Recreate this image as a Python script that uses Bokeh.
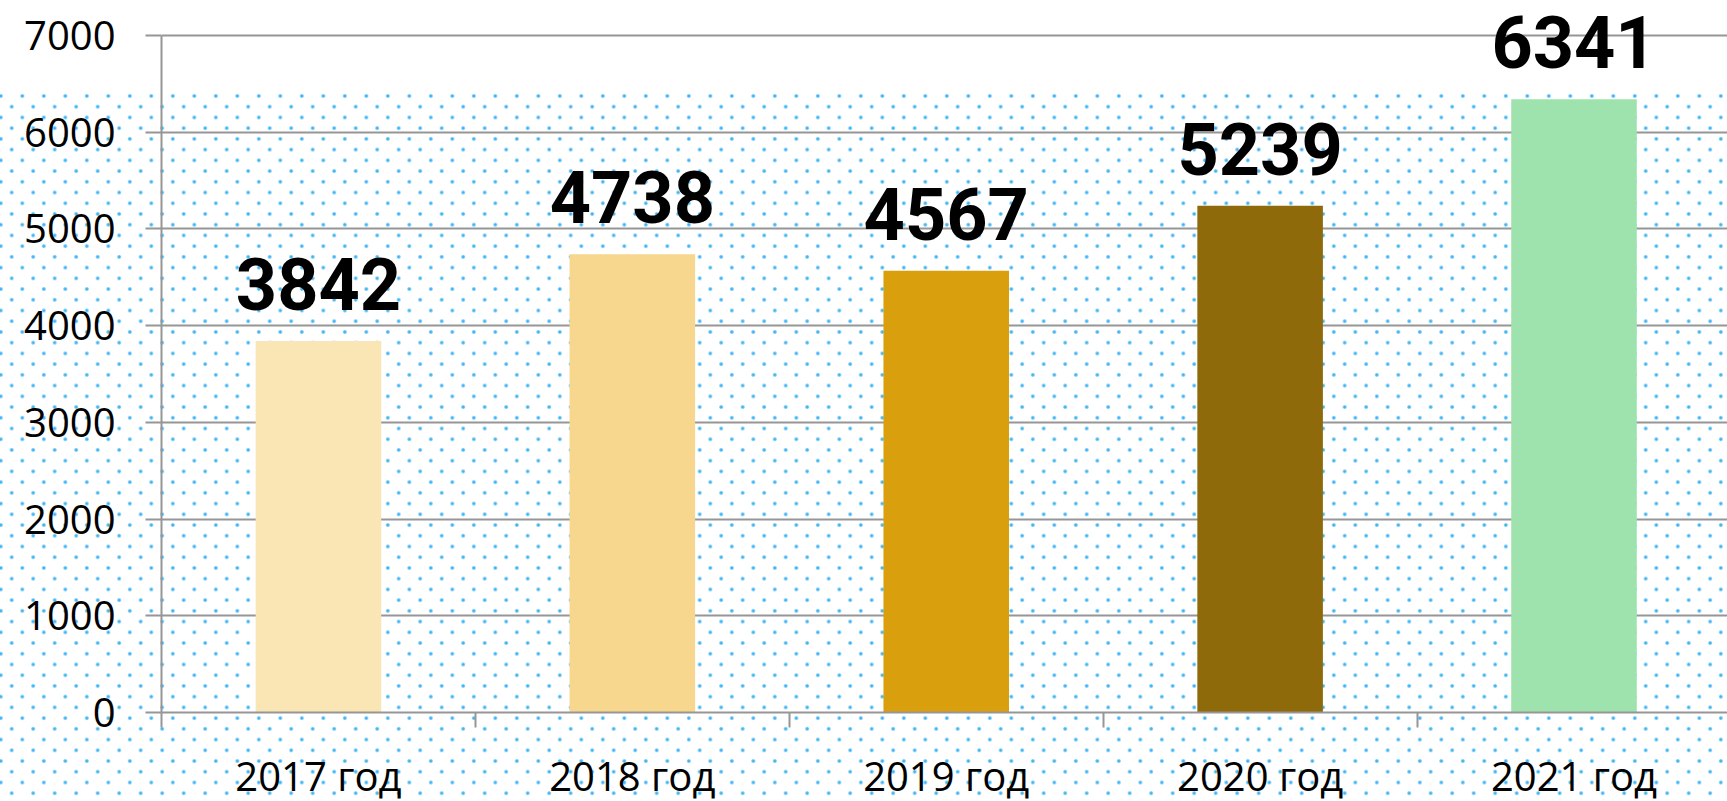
from bokeh.plotting import figure
from bokeh.models import Range1d, FixedTicker
from bokeh.core.properties import value
from bokeh.embed import file_html
from bokeh.resources import INLINE

categories = ["2017 год", "2018 год", "2019 год", "2020 год", "2021 год"]
values = [3842, 4738, 4567, 5239, 6341]
colors = ["#FAE5B5", "#F7D68D", "#DA9F0C", "#8E6A0A", "#9EE3AD"]
y_ticks = [0, 1000, 2000, 3000, 4000, 5000, 6000, 7000]

centers = [i + 0.5 for i in range(len(categories))]
bounds = list(range(len(categories) + 1))
grey = "#969696"

dots = ("radial-gradient(circle, #3fb4f4 0px, #3fb4f4 1.2px, rgba(63,180,244,0.4) 1.8px, rgba(63,180,244,0) 2.3px)")
bg_style = {
    "background-color": "#ffffff",
    "background-image": "linear-gradient(#ffffff, #ffffff), " + dots + ", " + dots,
    "background-size": "100% 90px, 21.5px 21.46px, 21.5px 21.46px",
    "background-repeat": "no-repeat, repeat, repeat",
    "background-position": "0px 0px, -9.95px 85.27px, 0.95px 95.97px",
}

p = figure(
    frame_width=1566, frame_height=712,
    min_border_left=161, min_border_right=0, min_border_top=0, min_border_bottom=0,
    x_range=Range1d(0, 4.989), y_range=Range1d(0, 7362),
    output_backend="svg", toolbar_location=None,
    background_fill_alpha=0, border_fill_alpha=0,
    outline_line_color=None, styles=bg_style,
)

p.vbar(x=centers, top=values, width=0.4, fill_color=colors, line_color=None)
p.text(x=centers, y=values, text=[str(v) for v in values],
       text_align="center", text_baseline="alphabetic", y_offset=-57,
       text_font=value("Roboto"), text_font_style="bold",
       text_font_size="72px", text_color="#000000")

# y axis
yax = p.yaxis[0]
yax.ticker = FixedTicker(ticks=y_ticks)
yax.bounds = (0, 7000)
yax.axis_line_color = grey
yax.axis_line_width = 2
yax.major_tick_line_color = grey
yax.major_tick_line_width = 2
yax.major_tick_out = 16
yax.major_tick_in = 0
yax.minor_tick_line_color = None
yax.major_label_standoff = 30
yax.major_label_text_font = "Open Sans"
yax.major_label_text_font_size = "40px"
yax.major_label_text_color = "#000000"

# x axis
xax = p.xaxis[0]
xax.ticker = FixedTicker(ticks=centers, minor_ticks=bounds)
xax.major_label_overrides = {c: lab for c, lab in zip(centers, categories)}
xax.axis_line_color = grey
xax.axis_line_width = 2
xax.major_tick_line_color = None
xax.major_tick_out = 0
xax.major_tick_in = 0
xax.minor_tick_line_color = grey
xax.minor_tick_line_width = 2
xax.minor_tick_out = 15
xax.minor_tick_in = 0
xax.major_label_standoff = 20
xax.major_label_text_font = "Open Sans"
xax.major_label_text_font_size = "40px"
xax.major_label_text_color = "#000000"

p.xgrid.grid_line_color = None
p.ygrid.ticker = FixedTicker(ticks=y_ticks)
p.ygrid.grid_line_color = grey
p.ygrid.grid_line_width = 2

open("out.html", "w").write(file_html(p, INLINE))
